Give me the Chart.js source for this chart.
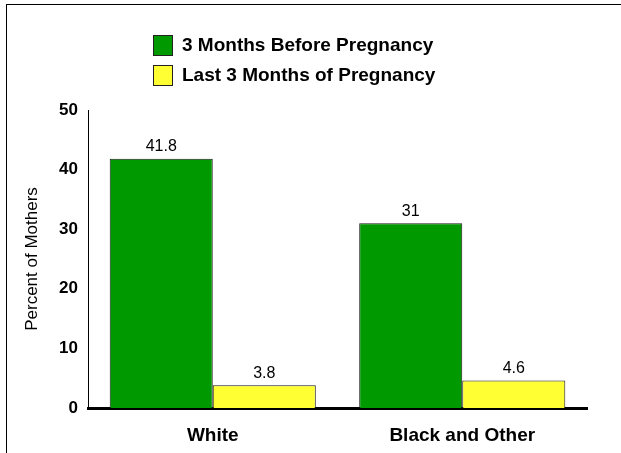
<!DOCTYPE html>
<html>
<head>
<meta charset="utf-8">
<script src="https://cdn.jsdelivr.net/npm/chart.js@4"></script>
<style>
  html, body { margin: 0; padding: 0; background: #fff; overflow: hidden; }
  #frame { position: absolute; left: 6px; top: 4px; width: 700px; height: 500px;
           border-top: 1px solid #000; border-left: 1px solid #000; }
  #wrap { position: absolute; left: 0; top: 0; width: 621px; height: 453px; }
</style>
</head>
<body>
<div id="frame"></div>
<div id="wrap"><canvas id="c" width="621" height="453"></canvas></div>
<script>
const categories = ['White', 'Black and Other'];
const seriesNames = ['3 Months Before Pregnancy', 'Last 3 Months of Pregnancy'];
const beforePregnancy = [41.8, 31];
const lastThreeMonths = [3.8, 4.6];
const yTicks = [0, 10, 20, 30, 40, 50];

const FONT = '"Liberation Sans", Arial, sans-serif';
const GREEN = '#009900';
const YELLOW = '#ffff33';

// Value labels above each bar
const valueLabels = {
  id: 'valueLabels',
  afterDatasetsDraw(chart) {
    const ctx = chart.ctx;
    ctx.save();
    ctx.font = '16px ' + FONT;
    ctx.fillStyle = '#000';
    ctx.textAlign = 'center';
    ctx.textBaseline = 'bottom';
    chart.data.datasets.forEach((ds, i) => {
      chart.getDatasetMeta(i).data.forEach((bar, j) => {
        ctx.fillText(String(ds.data[j]), bar.x, bar.y - 4);
      });
    });
    ctx.restore();
  }
};

// Stacked legend in the top area
const stackedLegend = {
  id: 'stackedLegend',
  afterDraw(chart) {
    const ctx = chart.ctx;
    ctx.save();
    ctx.font = 'bold 19px ' + FONT;
    ctx.textBaseline = 'middle';
    ctx.textAlign = 'left';
    chart.data.datasets.forEach((ds, i) => {
      const top = 35 + i * 30;
      ctx.fillStyle = ds.backgroundColor;
      ctx.fillRect(153, top, 20, 21);
      ctx.strokeStyle = '#222';
      ctx.lineWidth = 1;
      ctx.strokeRect(153.5, top + 0.5, 19, 20);
      ctx.fillStyle = '#000';
      ctx.fillText(ds.label, 182, top + 11);
    });
    ctx.restore();
  }
};

new Chart(document.getElementById('c'), {
  type: 'bar',
  data: {
    labels: categories,
    datasets: [
      { label: seriesNames[0], data: beforePregnancy, backgroundColor: GREEN,
        borderColor: '#1a1a1a', borderWidth: 1 },
      { label: seriesNames[1], data: lastThreeMonths, backgroundColor: YELLOW,
        borderColor: '#1a1a1a', borderWidth: 1 }
    ]
  },
  options: {
    responsive: false,
    animation: false,
    events: [],
    layout: { padding: { left: 0, right: 34, top: 110, bottom: 0 } },
    datasets: { bar: { categoryPercentage: 0.826, barPercentage: 1 } },
    plugins: { legend: { display: false }, tooltip: { enabled: false } },
    scales: {
      x: {
        grid: { display: false, drawTicks: false },
        border: { display: true, color: '#000', width: 3 },
        ticks: { color: '#000', padding: 16, font: { family: FONT, size: 19, weight: 'bold' } },
        afterFit(scale) { scale.height = 45; }
      },
      y: {
        min: 0, max: 50,
        afterBuildTicks(scale) { scale.ticks = yTicks.map(v => ({ value: v })); },
        grid: { display: false, drawTicks: false },
        border: { display: true, color: '#000', width: 1 },
        ticks: { color: '#000', padding: 10, font: { family: FONT, size: 17, weight: 'bold' } },
        title: { display: true, text: 'Percent of Mothers', color: '#000',
                 padding: { top: 22, bottom: 0 }, font: { family: FONT, size: 17 } },
        afterFit(scale) { scale.width = 88; }
      }
    }
  },
  plugins: [valueLabels, stackedLegend]
});
</script>
</body>
</html>
